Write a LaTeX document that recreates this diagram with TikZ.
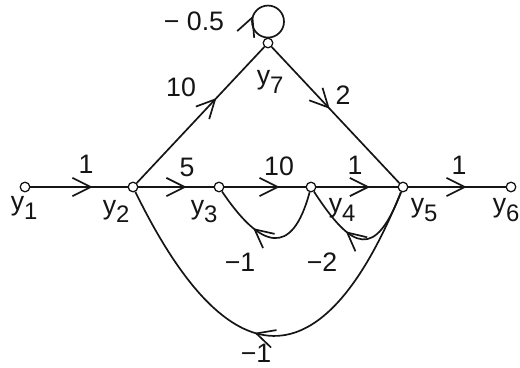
\documentclass[tikz,border=0pt]{standalone}
\usepackage{fontspec}
\setsansfont{Liberation Sans}
\usetikzlibrary{arrows.meta,decorations.markings}
\definecolor{ink}{HTML}{151515}
\newcommand{\ysub}[1]{y\raisebox{-0.6ex}{\fontsize{17}{17}\selectfont #1}}

\begin{document}
\begin{tikzpicture}[font=\sffamily\fontsize{19}{22}\selectfont,text=ink,draw=ink,line width=1.2pt,
  pt/.style={circle,draw=ink,fill=white,inner sep=0pt,minimum size=0.24cm,line width=0.9pt},
  lab/.style={inner sep=0pt,anchor=north west},
  gain/.style={inner sep=0pt},
  flow/.style={postaction={decorate,decoration={markings,mark=at position #1 with {\arrow{Straight Barb[length=13pt,width=13pt,line width=1.2pt]}}}}},
  flow/.default=0.64]
  \fill[white] (0,0) rectangle (13,-9.175);
  \useasboundingbox (0,0) rectangle (13,-9.175);
  % signals
  \node[pt] (y1) at (0.625,-4.675) {};
  \node[pt] (y2) at (3.325,-4.675) {};
  \node[pt] (y3) at (5.475,-4.675) {};
  \node[pt] (y4) at (7.775,-4.675) {};
  \node[pt] (y5) at (10.075,-4.675) {};
  \node[pt] (y6) at (12.775,-4.675) {};
  \node[pt] (y7) at (6.7,-1.075) {};
  \node[lab] (l1) at (0.25,-4.9) {\ysub{1}};
  \node[lab] (l2) at (2.55,-4.98) {\ysub{2}};
  \node[lab] (l3) at (4.75,-4.98) {\ysub{3}};
  \node[lab] (l4) at (8.2,-4.95) {\ysub{4}};
  \node[lab] (l5) at (10.25,-4.95) {\ysub{5}};
  \node[lab] (l6) at (12.3,-4.95) {\ysub{6}};
  \node[lab] (l7) at (6.4,-1.75) {\ysub{7}};
  % forward branches
  \draw[flow] (y1) -- (y2);
  \draw[flow] (y2) -- (y3);
  \draw[flow=0.68] (y3) -- (y4);
  \draw[flow=0.66] (y4) -- (y5);
  \draw[flow=0.6] (y5) -- (y6);
  \draw[flow=0.625] (y2) -- (y7);
  \draw[flow=0.455] (y7) -- (y5);
  % feedback branches
  \draw[flow=0.64] (y4) to[out=-105,in=-56,looseness=2] (y3);
  \draw[flow=0.62] (y5) to[out=-111,in=-57,looseness=2.1] (y4);
  \draw[flow=0.54] (y5) to[out=-112,in=-64,looseness=2.03] (y2);
  \draw[flow=0.31] (y7.north) arc[start angle=-90,delta angle=-360,radius=0.4];
  % gains
  \node[gain] (g12) at (2.15,-4.11) {1};
  \node[gain] (g23) at (4.675,-4.175) {5};
  \node[gain] (g34) at (6.975,-4.15) {10};
  \node[gain] (g45) at (8.875,-4.125) {1};
  \node[gain] (g56) at (11.475,-4.125) {1};
  \node[gain] (g27) at (4.525,-2.175) {10};
  \node[gain] (g75) at (8.575,-2.375) {2};
  \node[gain] (g77) at (4.85,-0.525) {− 0.5};
  \node[gain] (g43) at (6.0,-6.55) {−1};
  \node[gain] (g54) at (8.05,-6.55) {−2};
  \node[gain] (g52) at (6.4,-8.825) {−1};
\end{tikzpicture}
\end{document}
